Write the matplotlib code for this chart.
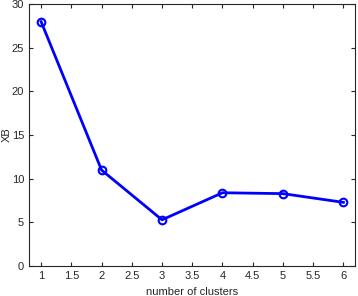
import matplotlib.pyplot as plt

clusters = [1, 2, 3, 4, 5, 6]
xb = [28.0, 11.0, 5.3, 8.4, 8.3, 7.3]

plt.rcParams['font.family'] = ['Liberation Sans', 'DejaVu Sans']
fig = plt.figure(figsize=(3.58, 2.96), dpi=100)
ax = fig.add_axes([0.081, 0.101, 0.912, 0.885])

ax.plot(clusters, xb, color='#0000ff', linewidth=2, marker='o',
        markersize=5.5, markerfacecolor='none', markeredgewidth=1.5)

ax.set_xlim(0.8, 6.2)
ax.set_ylim(0, 30)
ax.set_xticks([1, 1.5, 2, 2.5, 3, 3.5, 4, 4.5, 5, 5.5, 6])
ax.set_xticklabels(['1', '1.5', '2', '2.5', '3', '3.5', '4', '4.5', '5', '5.5', '6'])
ax.set_yticks([0, 5, 10, 15, 20, 25, 30])

grey = '#262626'
for s in ax.spines.values():
    s.set_color(grey)
    s.set_linewidth(0.8)
ax.tick_params(direction='in', top=True, right=True, labelsize=8,
               colors=grey, length=3, width=0.8)
ax.set_xlabel('number of clusters', fontsize=8, color=grey, labelpad=4)
ax.set_ylabel('XB', fontsize=8, color=grey)
ax.yaxis.set_label_coords(-0.052, 0.5)

fig.savefig('out.png', dpi=100)
